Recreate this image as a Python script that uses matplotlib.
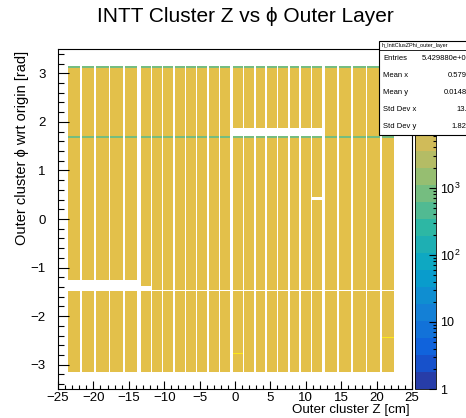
import numpy as np
import matplotlib
matplotlib.use("Agg")
import matplotlib.pyplot as plt
from matplotlib.colors import LinearSegmentedColormap, ListedColormap, LogNorm
from matplotlib.patches import Rectangle
from matplotlib.lines import Line2D
from matplotlib.ticker import MultipleLocator, FixedLocator, NullFormatter

plt.rcParams['font.family'] = ['Liberation Sans', 'DejaVu Sans']
plt.rcParams['mathtext.default'] = 'regular'

# sensor cells along z [cm]: type-B (2 cm pitch) and type-A (1.6 cm pitch)
south_b_z0 = [-23.6, -21.6, -19.6, -17.6, -15.6]
south_a_z0 = [-13.3, -11.7, -10.1, -8.5, -6.9, -5.3, -3.7, -2.1]
north_a_z0 = [-0.3, 1.3, 2.9, 4.5, 6.1, 7.7, 9.3, 10.9]
north_b_z0 = [12.7, 14.7, 16.7, 18.7, 20.7]
b_active = 1.75
a_active = 1.4

# counts per bin for a healthy cell
cell_count = 9.0e3

# (first cell, last cell, phi low, phi high, counts) -- 0 means empty
phi_features = [
    (0, 25, 1.66, 1.70, 9.0e2),
    (0, 25, 3.11, np.pi, 9.0e2),
    (0, 4, -1.49, -1.26, 0),
    (5, 5, -1.49, -1.37, 0),
    (6, 25, -1.49, -1.465, 0),
    (13, 20, 1.70, 1.88, 0),
    (20, 20, 0.39, 0.45, 0),
    (13, 13, -2.785, -2.76, 5.0e4),
    (25, 25, -2.455, -2.43, 5.0e4),
]

stat_names = ["Entries", "Mean x", "Mean y", "Std Dev x", "Std Dev y"]
stat_values = ["5.429880e+07", "0.5795", "0.01485", "13.3", "1.822"]

# ROOT kBird palette
bird_stops = [0.0, 0.125, 0.25, 0.375, 0.5, 0.625, 0.75, 0.875, 1.0]
bird_r = [0.2082, 0.0592, 0.0780, 0.0232, 0.1802, 0.5301, 0.8186, 0.9956, 0.9764]
bird_g = [0.1664, 0.3599, 0.5041, 0.6419, 0.7178, 0.7492, 0.7328, 0.7862, 0.9832]
bird_b = [0.5293, 0.8684, 0.8385, 0.7914, 0.6425, 0.4662, 0.3499, 0.1968, 0.0539]
bird = LinearSegmentedColormap.from_list(
    "bird", list(zip(bird_stops, zip(bird_r, bird_g, bird_b))))
n_contours = 20
palette = ListedColormap([bird((k + 0.99) / n_contours) for k in range(n_contours)])
palette.set_bad("white")
z_min, z_max = 1.0, 1.17e5

# build the cell grid
starts = ([(z, b_active) for z in south_b_z0] + [(z, a_active) for z in south_a_z0]
          + [(z, a_active) for z in north_a_z0] + [(z, b_active) for z in north_b_z0])
z_edges = []
for z0, w in starts:
    z_edges += [z0, z0 + w]
z_edges = np.array(z_edges)

phi_edges = {-np.pi, np.pi}
for f in phi_features:
    phi_edges.update([f[2], f[3]])
phi_edges = np.array(sorted(phi_edges))
phi_mid = 0.5 * (phi_edges[:-1] + phi_edges[1:])

counts = np.full((len(phi_mid), len(z_edges) - 1), np.nan)
for i in range(len(starts)):
    counts[:, 2 * i] = cell_count
for c0, c1, p0, p1, val in phi_features:
    rows = (phi_mid > p0) & (phi_mid < p1)
    for i in range(c0, c1 + 1):
        counts[rows, 2 * i] = val if val > 0 else np.nan
counts = np.ma.masked_invalid(counts)

W, H = 466, 418
fig = plt.figure(figsize=(W / 100, H / 100), dpi=100)
ax = fig.add_axes([58 / W, 1 - 389 / H, 354 / W, 340 / H])
mesh = ax.pcolormesh(z_edges, phi_edges, counts, cmap=palette,
                     norm=LogNorm(z_min, z_max), antialiased=False, linewidth=0)
ax.set_xlim(-25, 25)
ax.set_ylim(-3.5, 3.5)
ax.xaxis.set_major_locator(MultipleLocator(5))
ax.xaxis.set_minor_locator(MultipleLocator(1))
ax.yaxis.set_major_locator(MultipleLocator(1))
ax.yaxis.set_minor_locator(MultipleLocator(0.2))
ax.tick_params(which='both', direction='in', top=False, right=False, width=0.8,
               labelsize=9.5)
ax.tick_params(axis='x', which='major', length=6, pad=2.5)
ax.tick_params(axis='x', which='minor', length=3)
ax.tick_params(axis='y', which='major', length=8, pad=9)
ax.tick_params(axis='y', which='minor', length=4)
for s in ax.spines.values():
    s.set_linewidth(0.8)

cax = fig.add_axes([415 / W, 1 - 389 / H, 21 / W, 340 / H])
cb = fig.colorbar(mesh, cax=cax)
cb.outline.set_linewidth(0.6)
# the upper decades sit behind the statistics box, so only the lower ones get labels
cax.yaxis.set_major_locator(FixedLocator([1, 10, 100, 1000, 1e4, 1e5]))
cax.yaxis.set_minor_locator(FixedLocator(
    [m * 10 ** d for d in range(5) for m in range(2, 10) if m * 10 ** d < z_max]))
cax.yaxis.set_minor_formatter(NullFormatter())
cax.set_yticklabels(["1", "10", "$10^{2}$", "$10^{3}$", "", ""])
cax.tick_params(which='both', direction='in', width=0.8, labelsize=9, pad=3)
cax.tick_params(which='major', length=5)
cax.tick_params(which='minor', length=2.5)

fig.text(245 / W, 1 - 16 / H, "INTT Cluster Z vs ϕ Outer Layer",
         ha='center', va='center', fontsize=15)
fig.text(410 / W, 1 - 410 / H, "Outer cluster Z [cm]",
         ha='right', va='center', fontsize=9.6)
fig.text(22 / W, 1 - 51 / H, "Outer cluster ϕ wrt origin [rad]",
         ha='center', va='top', rotation=90, fontsize=10.5)

# statistics box
bx0, by0, by1 = 379 / W, 1 - 135 / H, 1 - 41 / H
fig.patches.append(Rectangle((bx0, by0), 0.3, by1 - by0, transform=fig.transFigure,
                             facecolor='white', edgecolor='black', lw=0.8, zorder=10))
fig.lines.append(Line2D([bx0, 1.1], [1 - 50 / H] * 2, transform=fig.transFigure,
                        color='black', lw=0.6, zorder=11))
fig.text(bx0 + 3 / W, 1 - 45.5 / H, "h_InttClusZPhi_outer_layer", fontsize=4,
         va='center', zorder=12)
for k, (name, val) in enumerate(zip(stat_names, stat_values)):
    yy = 1 - (58 + 17.2 * k) / H
    fig.text(bx0 + 4 / W, yy, name, fontsize=5.5, va='center', zorder=12)
    fig.text(471 / W, yy, val, fontsize=5.5, va='center', ha='right', zorder=12)

fig.savefig("out.png", dpi=100)
